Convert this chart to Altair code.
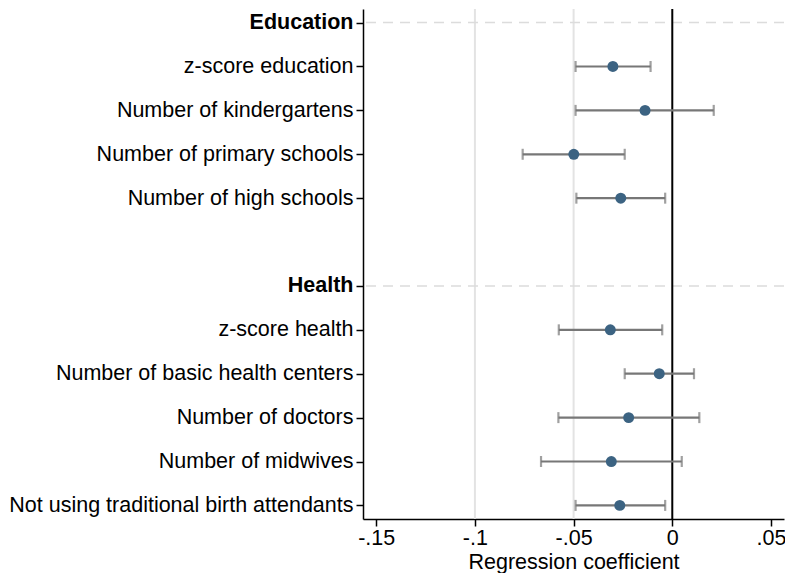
import altair as alt
import pandas as pd

labels = ["Education", "z-score education", "Number of kindergartens",
          "Number of primary schools", "Number of high schools", " ",
          "Health", "z-score health", "Number of basic health centers",
          "Number of doctors", "Number of midwives",
          "Not using traditional birth attendants"]
headers = ["Education", "Health"]

vars_ = ["z-score education", "Number of kindergartens",
         "Number of primary schools", "Number of high schools",
         "z-score health", "Number of basic health centers",
         "Number of doctors", "Number of midwives",
         "Not using traditional birth attendants"]
coef = [-0.0301, -0.0138, -0.0499, -0.0261, -0.0314, -0.0066, -0.0221, -0.0309, -0.0266]
lo = [-0.0490, -0.0490, -0.0758, -0.0486, -0.0575, -0.0241, -0.0577, -0.0665, -0.0490]
hi = [-0.0110, 0.0210, -0.0241, -0.0036, -0.0051, 0.0110, 0.0137, 0.0048, -0.0036]

x_ticks = [-0.15, -0.1, -0.05, 0, 0.05]
grid_x = [-0.1, -0.05]

df = pd.DataFrame({"label": vars_, "coef": coef, "lo": lo, "hi": hi})
hdf = pd.DataFrame({"label": headers})
gdf = pd.DataFrame({"x": grid_x})
zdf = pd.DataFrame({"x": [0]})

FONT = "Liberation Sans"
FS = 21.5

xscale = alt.Scale(domain=[-0.1567, 0.0566], nice=False, zero=False)
yscale = alt.Scale(domain=labels, type="point", padding=0.31)

xaxis = alt.Axis(values=x_ticks, grid=False, title="Regression coefficient",
                 labelExpr="datum.value == 0 ? '0' : replace(toString(datum.value), '0.', '.')",
                 labelFontSize=FS, titleFontSize=FS, titleFontWeight="normal",
                 tickSize=7, labelPadding=1, titlePadding=3)
yaxis = alt.Axis(values=[l for l in labels if l.strip()], grid=False, title=None,
                 labelFontSize=FS, tickSize=7, labelPadding=3, labelLimit=0,
                 labelFontWeight={"condition": {"test": "datum.value == 'Education' || datum.value == 'Health'",
                                                "value": "bold"}, "value": "normal"})

base_y = alt.Y("label:N", scale=yscale, axis=yaxis, sort=labels)

grid = alt.Chart(gdf).mark_rule(color="#e3e3e3", strokeWidth=2).encode(
    x=alt.X("x:Q", scale=xscale, axis=xaxis))
hrule = alt.Chart(hdf).mark_rule(color="#dcdcdc", strokeWidth=1.5, strokeDash=[10, 7]).encode(
    y=base_y)
zero = alt.Chart(zdf).mark_rule(color="black", strokeWidth=2).encode(
    x=alt.X("x:Q", scale=xscale))
bars = alt.Chart(df).mark_rule(color="#777777", strokeWidth=2.2).encode(
    x=alt.X("lo:Q", scale=xscale), x2="hi:Q", y=base_y)
cap_lo = alt.Chart(df).mark_tick(color="#777777", thickness=2.2, size=11).encode(
    x=alt.X("lo:Q", scale=xscale), y=base_y)
cap_hi = alt.Chart(df).mark_tick(color="#777777", thickness=2.2, size=11).encode(
    x=alt.X("hi:Q", scale=xscale), y=base_y)
pts = alt.Chart(df).mark_circle(color="#3c6382", opacity=1, size=120).encode(
    x=alt.X("coef:Q", scale=xscale), y=base_y)

chart = alt.layer(grid, hrule, zero, bars, cap_lo, cap_hi, pts).properties(
    width=777, height=565,
    autosize=alt.AutoSizeParams(type="fit", contains="padding"),
    padding={"left": 0, "top": 0, "right": 0, "bottom": 0}
).configure_view(stroke=None).configure_axis(
    labelFont=FONT, titleFont=FONT, labelColor="black", titleColor="black",
    domainColor="black", domainWidth=1.5, tickColor="black", tickWidth=1.5
)

chart.save("out.html", embed_options={"renderer": "svg", "actions": False})
